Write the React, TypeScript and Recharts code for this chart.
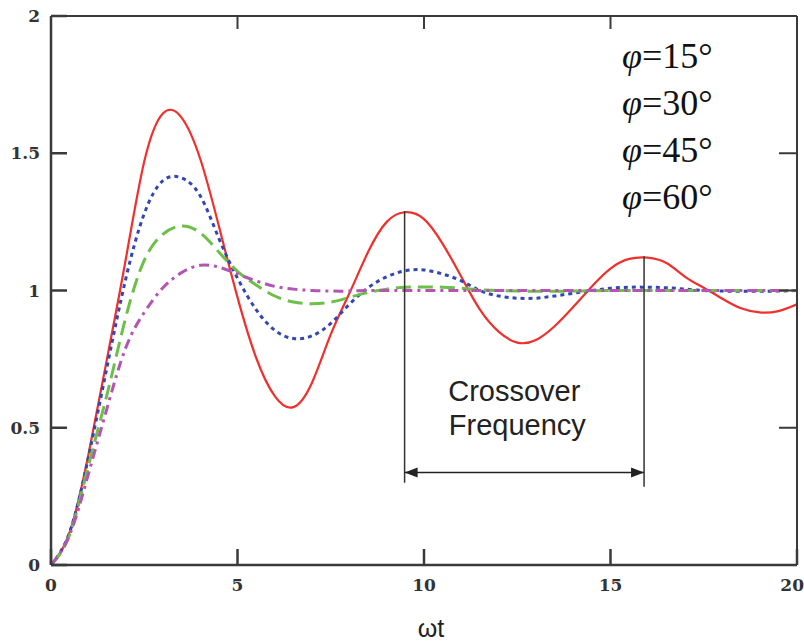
import { Legend, Line, LineChart, ReferenceLine, XAxis, YAxis } from 'recharts';

// ωt sample points
const wt = [
  0, 0.5, 1, 1.5, 2, 2.5, 3, 3.5, 4, 4.5, 5, 5.5, 6, 6.5, 7, 7.5, 8, 8.5, 9, 9.5, 10,
  10.5, 11, 11.5, 12, 12.5, 13, 13.5, 14, 14.5, 15, 15.5, 16, 16.5, 17, 17.5, 18, 18.5, 19, 19.5, 20,
];

const phi15 = [
  0, 0.12, 0.4, 0.75, 1.11, 1.47, 1.645, 1.63, 1.48, 1.235, 0.975, 0.755, 0.615, 0.575, 0.665, 0.84, 0.99, 1.14, 1.25, 1.285, 1.26,
  1.17, 1.05, 0.93, 0.85, 0.81, 0.82, 0.87, 0.94, 1.015, 1.08, 1.115, 1.12, 1.1, 1.05, 1.01, 0.97, 0.935, 0.92, 0.925, 0.95,
];
const phi30 = [
  0, 0.12, 0.39, 0.72, 1.04, 1.28, 1.4, 1.41, 1.345, 1.19, 1.045, 0.93, 0.855, 0.825, 0.835, 0.88, 0.95, 1.01, 1.05, 1.072, 1.075,
  1.06, 1.035, 1.0, 0.98, 0.972, 0.972, 0.98, 0.99, 1.0, 1.008, 1.012, 1.012, 1.01, 1.005, 1.0, 0.998, 0.997, 0.997, 0.998, 1.0,
];
const phi45 = [
  0, 0.11, 0.36, 0.62, 0.9, 1.11, 1.205, 1.235, 1.21, 1.14, 1.07, 1.02, 0.98, 0.958, 0.952, 0.958, 0.975, 0.993, 1.005, 1.012, 1.013,
  1.012, 1.008, 1.003, 1.0, 0.998, 0.997, 0.997, 0.998, 0.999, 1.0, 1.0, 1.0, 1.0, 1.0, 1.0, 1.0, 1.0, 1.0, 1.0, 1.0,
];
const phi60 = [
  0, 0.11, 0.33, 0.57, 0.79, 0.92, 1.01, 1.065, 1.092, 1.085, 1.06, 1.035, 1.015, 1.005, 1.0, 0.998, 0.998, 1.0, 1.0, 1.0, 1.0,
  1.0, 1.0, 1.0, 1.0, 1.0, 1.0, 1.0, 1.0, 1.0, 1.0, 1.0, 1.0, 1.0, 1.0, 1.0, 1.0, 1.0, 1.0, 1.0, 1.0,
];

const xTicks = [0, 5, 10, 15, 20];
const yTicks = [0, 0.5, 1, 1.5, 2];

// crossover markers: x of the two red peaks, top and bottom of the guide lines
const crossoverX = [9.48, 15.9];
const crossoverTop = [1.29, 1.125];
const crossoverBottom = [0.3, 0.285];
const arrowY = 0.337;

const data = wt.map((x, i) => ({
  x,
  p15: phi15[i],
  p30: phi30[i],
  p45: phi45[i],
  p60: phi60[i],
}));

const axisColor = '#3a3a3a';

const XTick = (props: any) => {
  const last = props.payload.value === xTicks[xTicks.length - 1];
  return (
    <text
      x={last ? props.x + 7 : props.x}
      y={props.y}
      dy={13}
      textAnchor={last ? 'end' : 'middle'}
      style={{ fontFamily: 'DejaVu Serif', fontWeight: 700, fontSize: 17, fill: '#333' }}
    >
      {props.payload.value}
    </text>
  );
};

const YTick = (props: any) => (
  <text
    x={props.x}
    y={props.y}
    dy={6}
    textAnchor="end"
    style={{ fontFamily: 'DejaVu Serif', fontWeight: 700, fontSize: 17, fill: '#333' }}
  >
    {props.payload.value}
  </text>
);

const ArrowShape = (props: any) => {
  const { x1, x2, y1 } = props;
  const left = Math.min(x1, x2);
  const right = Math.max(x1, x2);
  const mid = (left + right) / 2;
  return (
    <g>
      <line x1={left} y1={y1} x2={right} y2={y1} stroke="#222" strokeWidth={1.5} />
      <polygon points={`${left},${y1} ${left + 13},${y1 - 5} ${left + 13},${y1 + 5}`} fill="#222" />
      <polygon points={`${right},${y1} ${right - 13},${y1 - 5} ${right - 13},${y1 + 5}`} fill="#222" />
      <text x={mid - 10} y={y1 - 71} textAnchor="middle" fontFamily="Liberation Sans" fontSize={29} fill="#222">
        Crossover
      </text>
      <text x={mid - 7} y={y1 - 37} textAnchor="middle" fontFamily="Liberation Sans" fontSize={29} fill="#222">
        Frequency
      </text>
    </g>
  );
};

const PhiLegend = (props: any) => {
  const items = (props.payload || []).filter((p: any) => String(p.value).startsWith('φ'));
  return (
    <div style={{ fontFamily: 'Liberation Serif', fontSize: 36, lineHeight: '47px', color: '#111', whiteSpace: 'nowrap' }}>
      {items.map((p: any) => (
        <div key={p.value}>
          <i>φ</i>
          {String(p.value).slice(1)}
        </div>
      ))}
    </div>
  );
};

export default function App() {
  return (
    <div style={{ position: 'absolute', left: 0, top: 0, background: '#fff' }}>
      <LineChart width={804} height={643} data={data} margin={{ top: 15, right: 6, left: 0, bottom: 0 }}>
        <XAxis
          dataKey="x"
          type="number"
          domain={[0, 20]}
          ticks={xTicks}
          interval={0}
          allowDataOverflow
          height={78}
          tickSize={-16}
          tickMargin={29}
          tick={<XTick />}
          stroke={axisColor}
          strokeWidth={2.5}
          label={{ value: 'ωt', position: 'insideBottom', offset: 6, dx: 7, fontFamily: 'Liberation Sans', fontSize: 25, fill: '#222' }}
        />
        <XAxis
          xAxisId="top"
          dataKey="x"
          orientation="top"
          type="number"
          domain={[0, 20]}
          ticks={xTicks}
          interval={0}
          allowDataOverflow
          height={1}
          tickSize={-13}
          tickMargin={0}
          tickFormatter={() => ''}
          stroke={axisColor}
          strokeWidth={2}
        />
        <YAxis
          type="number"
          domain={[0, 2]}
          ticks={yTicks}
          interval={0}
          allowDataOverflow
          width={51}
          tickSize={-16}
          tickMargin={27}
          tick={<YTick />}
          stroke={axisColor}
          strokeWidth={2.5}
        />
        <YAxis
          yAxisId="right"
          orientation="right"
          type="number"
          domain={[0, 2]}
          ticks={yTicks}
          interval={0}
          allowDataOverflow
          width={1}
          tickSize={-18}
          tickMargin={0}
          tickFormatter={() => ''}
          stroke={axisColor}
          strokeWidth={2}
        />
        <Legend
          layout="vertical"
          align="center"
          verticalAlign="middle"
          content={<PhiLegend />}
          wrapperStyle={{ left: 622, top: 33, width: 150, height: 190 }}
        />
        {/* invisible series so the top / right frame axes get a scale */}
        <Line
          name="frame"
          dataKey="p60"
          xAxisId="top"
          yAxisId="right"
          stroke="none"
          dot={false}
          activeDot={false}
          legendType="none"
          isAnimationActive={false}
        />
        <Line
          name="φ=15°"
          dataKey="p15"
          type="natural"
          stroke="#f0302c"
          strokeWidth={2.2}
          dot={false}
          isAnimationActive={false}
        />
        <Line
          name="φ=30°"
          dataKey="p30"
          type="natural"
          stroke="#3346b4"
          strokeWidth={3}
          strokeDasharray="4 4"
          dot={false}
          isAnimationActive={false}
        />
        <Line
          name="φ=45°"
          dataKey="p45"
          type="natural"
          stroke="#6cbf48"
          strokeWidth={3}
          strokeDasharray="15 7"
          dot={false}
          isAnimationActive={false}
        />
        <Line
          name="φ=60°"
          dataKey="p60"
          type="natural"
          stroke="#b455b2"
          strokeWidth={3}
          strokeDasharray="10 5 3 5"
          dot={false}
          isAnimationActive={false}
        />
        {crossoverX.map((cx, i) => (
          <ReferenceLine
            key={cx}
            segment={[
              { x: cx, y: crossoverTop[i] },
              { x: cx, y: crossoverBottom[i] },
            ]}
            stroke="#333"
            strokeWidth={1.5}
          />
        ))}
        <ReferenceLine
          segment={[
            { x: crossoverX[0], y: arrowY },
            { x: crossoverX[1], y: arrowY },
          ]}
          shape={<ArrowShape />}
        />
      </LineChart>
    </div>
  );
}
